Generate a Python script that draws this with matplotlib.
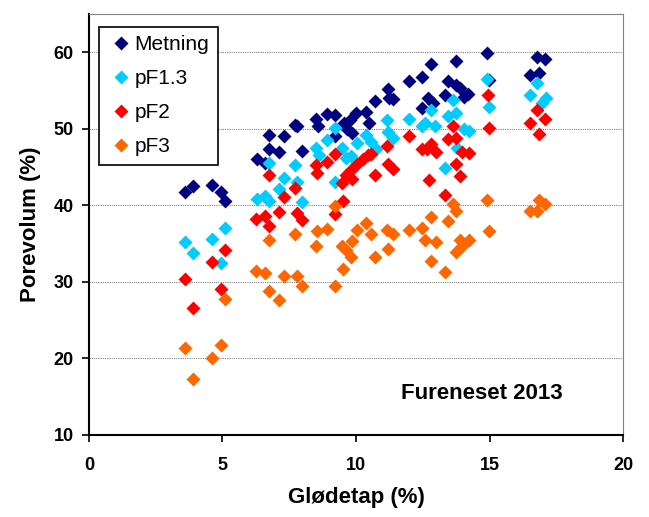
import matplotlib.pyplot as plt

plt.rcParams['font.family'] = ['Liberation Sans', 'DejaVu Sans']

# Metning
x_met = [3.59, 3.9, 4.6, 4.94, 5.1, 6.3, 6.6, 6.73, 6.73, 7.1, 7.32, 7.72, 7.8, 7.99,
         8.5, 8.56, 8.9, 9.2, 9.2, 9.55, 9.67, 9.86, 9.78, 10.0, 10.36, 10.48, 10.7,
         11.2, 11.25, 11.38, 12.0, 12.46, 12.8, 12.49, 12.7, 12.9, 13.35, 13.43, 13.73,
         13.73, 13.89, 14.04, 14.2, 14.9, 14.97, 16.5, 16.77, 16.85, 17.06]
y_met = [41.7, 42.5, 42.6, 41.7, 40.5, 46.1, 45.5, 49.2, 47.3, 46.9, 49.0, 50.5, 50.3, 47.1,
         51.3, 50.4, 51.9, 51.8, 49.0, 50.7, 50.0, 49.5, 51.2, 52.0, 52.2, 50.7, 53.6,
         55.2, 54.0, 53.9, 56.3, 56.8, 58.4, 52.7, 54.0, 53.3, 54.4, 56.2, 58.9,
         55.7, 55.3, 54.2, 54.6, 59.9, 56.4, 57.0, 59.4, 57.3, 59.1]

# pF1.3
x_p13 = [3.59, 3.9, 4.6, 4.94, 5.1, 6.3, 6.6, 6.73, 6.73, 7.1, 7.32, 7.7, 7.8, 7.99,
         8.5, 8.6, 8.9, 9.2, 9.2, 9.47, 9.63, 9.83, 10.05, 10.36, 10.56, 10.76, 11.18,
         11.2, 11.38, 12.0, 12.46, 12.6, 12.8, 12.96, 13.35, 13.43, 13.63, 13.73, 13.8,
         14.04, 14.22, 14.9, 14.97, 16.5, 16.77, 16.97, 17.1]
y_p13 = [35.2, 33.7, 35.6, 32.5, 37.0, 40.8, 41.2, 40.5, 45.5, 42.1, 43.6, 45.3, 43.1, 40.4,
         47.5, 46.6, 48.5, 50.1, 43.1, 47.5, 46.2, 46.4, 48.1, 49.2, 48.3, 47.3, 51.1,
         49.6, 48.8, 51.3, 50.4, 50.7, 52.5, 50.4, 44.9, 51.6, 53.8, 52.0, 47.5,
         49.9, 49.7, 56.5, 52.8, 54.4, 56.0, 53.3, 54.0]

# pF2
x_p2 = [3.59, 3.9, 4.6, 4.94, 5.1, 6.27, 6.58, 6.73, 6.76, 7.1, 7.32, 7.7, 7.8, 7.99,
        8.5, 8.55, 8.9, 9.2, 9.2, 9.47, 9.52, 9.63, 9.83, 9.86, 10.05, 10.25, 10.45,
        10.56, 10.7, 11.18, 11.2, 11.38, 12.0, 12.49, 12.65, 12.8, 12.73, 13.0, 13.35,
        13.43, 13.63, 13.73, 13.73, 13.89, 13.96, 14.22, 14.94, 14.97, 16.5, 16.77,
        16.85, 17.06]
y_p2 = [30.3, 26.6, 32.6, 29.1, 34.2, 38.2, 38.6, 37.3, 43.9, 39.1, 41.1, 42.3, 39.0, 38.1,
        45.3, 44.2, 45.6, 46.7, 38.8, 42.9, 40.5, 44.0, 44.6, 43.4, 45.4, 46.0, 46.6,
        46.7, 43.9, 47.7, 45.4, 44.7, 49.0, 47.3, 47.3, 48.0, 43.3, 47.0, 41.4,
        48.6, 50.4, 45.4, 48.8, 43.8, 46.9, 46.8, 54.4, 50.1, 50.7, 52.5,
        49.3, 51.3]

# pF3
x_p3 = [3.59, 3.9, 4.6, 4.94, 5.1, 6.27, 6.58, 6.73, 6.76, 7.1, 7.32, 7.7, 7.8, 7.99,
        8.5, 8.55, 8.9, 9.2, 9.2, 9.47, 9.52, 9.63, 9.83, 9.86, 10.05, 10.36, 10.56,
        10.7, 11.18, 11.2, 11.38, 12.0, 12.49, 12.6, 12.8, 12.8, 13.0, 13.35, 13.43,
        13.63, 13.73, 13.73, 13.89, 13.96, 14.22, 14.9, 14.97, 16.5, 16.77, 16.85, 17.06]
y_p3 = [21.4, 17.3, 20.1, 21.8, 27.8, 31.4, 31.1, 28.8, 35.5, 27.6, 30.7, 36.2, 30.8, 29.4,
        34.7, 36.6, 36.9, 39.9, 29.5, 34.7, 31.7, 34.2, 33.3, 35.3, 36.8, 37.7, 36.2,
        33.3, 36.8, 34.3, 36.2, 36.8, 37.0, 35.5, 38.5, 32.7, 35.2, 31.3, 37.9,
        40.2, 33.9, 39.2, 35.5, 34.7, 35.4, 40.7, 36.6, 39.3, 39.3, 40.7, 40.1]

fig = plt.figure(figsize=(6.49, 5.17), dpi=100)
ax = fig.add_axes([0.137, 0.159, 0.823, 0.814])

ms = 6.8
ax.plot(x_met, y_met, 'D', color='#000080', ms=ms, mec='none', label='Metning', zorder=3)
ax.plot(x_p13, y_p13, 'D', color='#00CCFF', ms=ms, mec='none', label='pF1.3', zorder=3)
ax.plot(x_p2, y_p2, 'D', color='#FF0000', ms=ms, mec='none', label='pF2', zorder=3)
ax.plot(x_p3, y_p3, 'D', color='#FF6600', ms=ms, mec='none', label='pF3', zorder=3)

ax.set_xlim(0, 20)
ax.set_ylim(10, 65)
ax.set_xticks([0, 5, 10, 15, 20])
ax.set_yticks([10, 20, 30, 40, 50, 60])
ax.yaxis.grid(True, color='#808080', linestyle=(0, (1, 1)), linewidth=0.8)
ax.set_axisbelow(True)

ax.spines['top'].set_color('#808080')
ax.spines['right'].set_color('#808080')
ax.spines['left'].set_linewidth(1.5)
ax.spines['bottom'].set_linewidth(1.5)
ax.tick_params(direction='out', length=5, width=1.2, labelsize=13)
ax.tick_params(axis='x', pad=11)
ax.tick_params(axis='y', pad=6)
for lab in ax.get_xticklabels() + ax.get_yticklabels():
    lab.set_fontweight('bold')

ax.set_xlabel('Glødetap (%)', fontsize=16, fontweight='bold', labelpad=9)
ax.set_ylabel('Porevolum (%)', fontsize=16, fontweight='bold', labelpad=9)

leg = ax.legend(loc='upper left', fontsize=15, fancybox=False, framealpha=1,
                edgecolor='black', handletextpad=0.0, borderpad=0.4,
                labelspacing=0.72, handlelength=1.3, borderaxespad=0,
                bbox_to_anchor=(0.019, 0.969))
leg.get_frame().set_linewidth(1.2)

ax.text(14.7, 15.4, 'Fureneset 2013', fontsize=16, fontweight='bold', ha='center', va='center')

fig.savefig('out.png', dpi=100)
